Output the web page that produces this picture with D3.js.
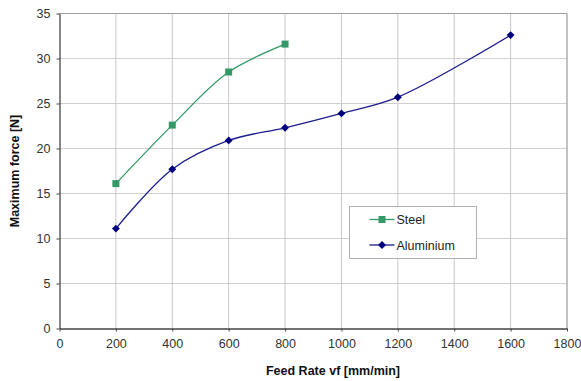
<!DOCTYPE html>
<html>
<head>
<meta charset="utf-8">
<script src="https://cdn.jsdelivr.net/npm/d3@7"></script>
<style>
  body { margin: 0; background: #fff; }
  svg { display: block; font-family: "Liberation Sans", Arial, sans-serif; }
</style>
</head>
<body>
<svg id="chart"></svg>
<script>
const steelRates = [200, 400, 600, 800];
const steelForce = [16.1, 22.6, 28.5, 31.6];
const aluRates = [200, 400, 600, 800, 1000, 1200, 1600];
const aluForce = [11.1, 17.7, 20.9, 22.3, 23.9, 25.7, 32.6];
const xTicks = [0, 200, 400, 600, 800, 1000, 1200, 1400, 1600, 1800];
const yTicks = [0, 5, 10, 15, 20, 25, 30, 35];

const outerWidth = 581;
const outerHeight = 381;
const margin = { top: 13.5, right: 14, bottom: 52.5, left: 59.5 };
const width = outerWidth - margin.left - margin.right;
const height = outerHeight - margin.top - margin.bottom;

const svg = d3.select("#chart")
    .attr("width", outerWidth)
    .attr("height", outerHeight);

const g = svg.append("g")
    .attr("transform", `translate(${margin.left},${margin.top})`);

const x = d3.scaleLinear().domain([0, 1800]).range([0, width]);
const y = d3.scaleLinear().domain([0, 35]).range([height, 0]);

// grid
g.selectAll(".hgrid")
    .data(yTicks.slice(1))
    .enter().append("line")
    .attr("x1", 0).attr("x2", width)
    .attr("y1", d => y(d)).attr("y2", d => y(d))
    .attr("stroke", "#d0d0d0").attr("stroke-width", 1);

g.selectAll(".vgrid")
    .data(xTicks.slice(1))
    .enter().append("line")
    .attr("x1", d => x(d)).attr("x2", d => x(d))
    .attr("y1", 0).attr("y2", height)
    .attr("stroke", "#c8c8c8").attr("stroke-width", 1);

// frame top/right
g.append("path")
    .attr("d", `M0,0H${width}V${height}`)
    .attr("fill", "none")
    .attr("stroke", "#a0a0a0");

// axes
const xAxis = g.append("g")
    .attr("transform", `translate(0,${height})`)
    .call(d3.axisBottom(x).tickValues(xTicks).tickFormat(d3.format("d"))
        .tickSize(3).tickPadding(8).tickSizeOuter(0));
const yAxis = g.append("g")
    .call(d3.axisLeft(y).tickValues(yTicks).tickFormat(d3.format("d"))
        .tickSize(3).tickPadding(6).tickSizeOuter(0));

[xAxis, yAxis].forEach(a => {
    a.select(".domain").attr("stroke", "#444").attr("stroke-width", 1.3);
    a.selectAll(".tick line").attr("stroke", "#444");
    a.selectAll(".tick text")
        .attr("fill", "#333")
        .style("font-size", "12.5px")
        .style("font-family", "'Liberation Sans', Arial, sans-serif");
});

const line = d3.line()
    .x(d => x(d[0]))
    .y(d => y(d[1]))
    .curve(d3.curveCatmullRom.alpha(0.5));

const steel = steelRates.map((r, i) => [r, steelForce[i]]);
const alu = aluRates.map((r, i) => [r, aluForce[i]]);

const steelColor = "#339966";
const aluColor = "#000080";

g.append("path").datum(steel)
    .attr("fill", "none").attr("stroke", steelColor).attr("stroke-width", 1.3)
    .attr("d", line);
g.append("path").datum(alu)
    .attr("fill", "none").attr("stroke", "#1c1c8c").attr("stroke-width", 1.3)
    .attr("d", line);

g.selectAll(".steel-pt").data(steel).enter().append("rect")
    .attr("x", d => x(d[0]) - 3.5).attr("y", d => y(d[1]) - 3.5)
    .attr("width", 7).attr("height", 7)
    .attr("fill", steelColor);

const diamond = d3.symbol().type(d3.symbolDiamond2).size(40);
g.selectAll(".alu-pt").data(alu).enter().append("path")
    .attr("transform", d => `translate(${x(d[0])},${y(d[1])})`)
    .attr("d", diamond)
    .attr("fill", aluColor);

// axis titles
svg.append("text")
    .attr("x", 333).attr("y", 375)
    .attr("text-anchor", "middle")
    .style("font-size", "12.5px").style("font-weight", "bold")
    .attr("fill", "#111")
    .text("Feed Rate vf [mm/min]");

svg.append("text")
    .attr("transform", `translate(19,${margin.top + height / 2}) rotate(-90)`)
    .attr("text-anchor", "middle")
    .style("font-size", "12.5px").style("font-weight", "bold")
    .attr("fill", "#111")
    .text("Maximum force [N]");

// legend
const legend = svg.append("g").attr("transform", "translate(349.5,206.5)");
legend.append("rect")
    .attr("width", 127).attr("height", 52)
    .attr("fill", "#fff").attr("stroke", "#b0b0b0");

const items = [
    { name: "Steel", color: steelColor, lineColor: steelColor, marker: "square", y: 13 },
    { name: "Aluminium", color: aluColor, lineColor: "#1c1c8c", marker: "diamond", y: 38.5 }
];
items.forEach(it => {
    const row = legend.append("g").attr("transform", `translate(0,${it.y})`);
    row.append("line")
        .attr("x1", 20).attr("x2", 45)
        .attr("stroke", it.lineColor).attr("stroke-width", 1.3);
    if (it.marker === "square") {
        row.append("rect").attr("x", 29).attr("y", -3.5).attr("width", 7).attr("height", 7)
            .attr("fill", it.color);
    } else {
        row.append("path").attr("transform", "translate(32.5,0)")
            .attr("d", diamond).attr("fill", it.color);
    }
    row.append("text")
        .attr("x", 47).attr("y", 4.5)
        .style("font-size", "12.5px")
        .attr("fill", "#222")
        .text(it.name);
});
</script>
</body>
</html>
